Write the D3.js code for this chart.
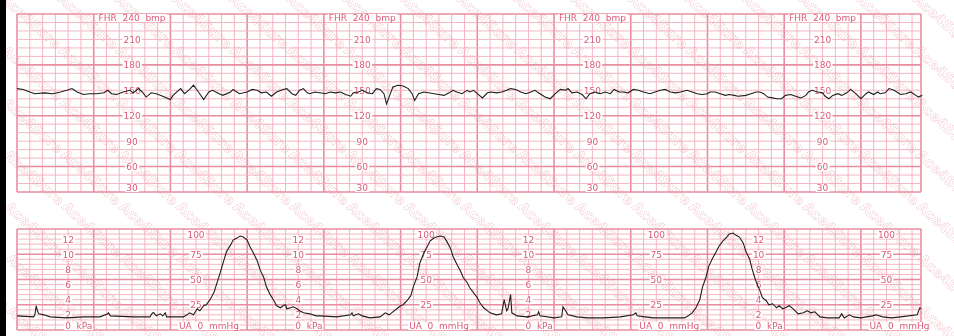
<!DOCTYPE html>
<html>
<head>
<meta charset="utf-8">
<script src="https://cdn.jsdelivr.net/npm/d3@7"></script>
<style>
  body { margin: 0; background: #fff; }
  svg { display: block; }
  .lbl { font-family: "DejaVu Sans", Verdana, sans-serif; font-size: 9px; fill: #dc5a78; white-space: pre; }
  .wm { font-family: "DejaVu Sans", Verdana, sans-serif; font-size: 14px; font-weight: bold; fill: none; stroke: #e9a3b1; stroke-width: 0.8px; stroke-dasharray: 1.2 1; }
</style>
</head>
<body>
<script>
// strip length in seconds (10 s per small square, 60 s per big one)
var stripSeconds = 707;

// fetal heart rate trace: [seconds, bpm]
var fhrTrace = [
  [0,152],[5,151],[10,148],[14,146],[21,147],[28,146],[34,148],[39,150],[43,152],[47,148],
  [52,145],[57,146],[62,146],[68,147],[71,150],[74,146],[78,145],[83,148],[88,150],[91,147],
  [95,152],[98,148],[101,142],[105,147],[109,146],[114,143],[120,139],[122,144],[128,152],[131,146],
  [135,151],[138,156],[141,150],[146,139],[150,148],[153,150],[158,146],[161,144],[167,148],[169,151],
  [174,146],[180,148],[184,151],[188,150],[191,147],[195,148],[199,143],[203,148],[208,151],[211,152],
  [215,146],[218,144],[221,150],[224,152],[227,147],[229,146],[233,148],[237,147],[241,146],[245,148],
  [249,147],[253,148],[257,145],[261,143],[263,147],[267,148],[270,150],[274,147],[278,146],[281,152],
  [284,151],[287,146],[289,134],[292,146],[294,154],[298,156],[302,155],[306,152],[309,146],[311,138],
  [314,146],[318,148],[322,147],[326,146],[330,145],[334,144],[338,147],[341,150],[344,148],[348,146],
  [352,150],[354,148],[357,150],[360,146],[364,141],[368,147],[371,148],[375,147],[379,148],[383,150],
  [386,152],[390,151],[394,148],[398,146],[402,148],[405,150],[409,146],[413,142],[417,140],[421,146],
  [425,151],[429,150],[431,152],[434,147],[438,148],[442,145],[445,140],[448,146],[452,148],[456,146],
  [460,148],[464,146],[467,151],[471,148],[474,148],[478,147],[482,151],[486,150],[490,148],[495,146],
  [499,148],[503,150],[507,151],[511,148],[515,147],[519,148],[524,150],[528,148],[532,146],[536,145],
  [540,146],[542,148],[546,148],[550,146],[554,144],[557,145],[561,144],[564,143],[570,144],[574,146],
  [578,148],[581,148],[584,146],[587,142],[591,141],[594,140],[598,140],[601,144],[605,145],[609,143],
  [613,141],[617,144],[619,148],[622,150],[626,148],[630,147],[632,143],[635,140],[638,144],[642,146],
  [645,144],[649,147],[652,151],[656,146],[660,140],[664,146],[666,148],[670,145],[673,148],[675,146],
  [679,147],[682,152],[686,150],[691,145],[695,146],[699,148],[703,144],[705,142],[708,144]
];

// uterine activity trace: [seconds, mmHg]
var uaTrace = [
  [0,14],[13,13],[14,15],[15,24],[16,19],[17,16],[21,15],[26,13],[39,12],[52,13],
  [65,13],[71,16],[71.5,17],[73,14],[91,13],[104,13],[106,17],[107,17],[109,14],[112,16],
  [114,14],[116,17],[117,13],[130,13],[133,15],[135,17],[138,15],[141,21],[143,19],[146,24],
  [148,25],[151,30],[154,37],[156,45],[159,57],[162,70],[164,78],[167,84],[169,89],[172,91],
  [174.5,93],[177,92],[180,89],[182,83],[185,76],[188,68],[190,60],[193,52],[195,43],[198,35],
  [201,29],[203,24],[206,22],[208,24],[210,25],[211,21],[214,22],[216,23],[219,21],[221,19],
  [224,17],[229,16],[234,14],[237,14],[250,13],[261,15],[262,17],[263,14],[267,16],[270,14],
  [276,12],[284,13],[288,17],[291,15],[293,17],[297,21],[300,24],[302,25],[305,29],[308,34],
  [310,43],[313,53],[315,66],[318,76],[321,83],[323,88],[326,91],[328,92],[331,93],[334,92],
  [336,88],[339,81],[341,73],[344,65],[347,58],[349,52],[352,47],[354,42],[357,37],[360,32],
  [362,27],[365,22],[368,19],[370,17],[375,15],[379,16],[381,30],[383,19],[384,21],[386,35],
  [387,17],[391,14],[399,13],[407,15],[408,18],[409,14],[420,12],[426,13],[427,23],[429,19],
  [431,15],[438,13],[446,12],[459,12],[472,13],[482,15],[484,17],[485,14],[491,13],[498,12],
  [522,12],[525,14],[528,17],[531,22],[534,30],[536,42],[539,53],[541,63],[544,71],[547,78],
  [549,83],[552,88],[555,92],[557,95],[560,96],[562,94],[565,92],[568,86],[570,78],[573,70],
  [575,60],[578,48],[581,39],[583,32],[586,29],[588,25],[591,26],[594,22],[596,24],[599,21],
  [601,22],[604,24],[607,21],[611,16],[615,17],[618,19],[621,17],[624,18],[628,13],[634,12],
  [643,12],[645,16],[647,12],[651,15],[654,13],[660,12],[669,14],[672,15],[677,13],[684,12],
  [691,13],[704,15],[706,22],[707,21]
];

// scale labels
var fhrTicks = [210, 180, 150, 120, 90, 60];
var mmHgTicks = [75, 50, 25];
var kpaTicks = [12, 10, 8, 6, 4, 2];
// label columns, in seconds from the strip start
var fhrLabelAt = [90, 270, 450, 630];
var kpaLabelAt = [40, 220, 400, 580];
var mmHgLabelAt = [140, 320, 500, 680];

var W = 954, H = 336;
var minor = "#f3aebb", major = "#e98c9f";

var svg = d3.select("body").append("svg").attr("width", W).attr("height", H);
svg.append("rect").attr("width", W).attr("height", H).attr("fill", "#fff");

var x = d3.scaleLinear().domain([0, stripSeconds]).range([17, 921]);
var yF = d3.scaleLinear().domain([30, 240]).range([192, 14]);
var yU = d3.scaleLinear().domain([0, 100]).range([330, 229]);
var kpa = (k) => yU(k * 7.5);

// grid for one panel
const drawGrid = (g, yScale, lo, hi, step, bigStep) => {
  var secs = d3.range(0, stripSeconds, 10).concat([stripSeconds]);
  g.selectAll("line.v")
    .data(secs)
    .enter()
    .append("line")
    .attr("x1", (d) => x(d)).attr("x2", (d) => x(d))
    .attr("y1", yScale(hi)).attr("y2", yScale(lo))
    .attr("stroke", (d) => (d % 60 === 0 || d === stripSeconds ? major : minor))
    .attr("stroke-width", (d) => (d % 60 === 0 || d === stripSeconds ? 1.6 : 0.9));

  g.selectAll("line.h")
    .data(d3.range(lo, hi + 1, step))
    .enter()
    .append("line")
    .attr("x1", x(0)).attr("x2", x(stripSeconds))
    .attr("y1", (d) => yScale(d)).attr("y2", (d) => yScale(d))
    .attr("stroke", (d) => (d % bigStep === 0 || d === lo || d === hi ? major : minor))
    .attr("stroke-width", (d) => (d % bigStep === 0 || d === lo || d === hi ? 1.6 : 0.9));
};

var fhrG = svg.append("g");
drawGrid(fhrG, yF, 30, 240, 10, 60);
var uaG = svg.append("g");
drawGrid(uaG, yU, 0, 100, 5, 25);

// diagonal watermark stripes over the whole sheet
var wm = svg.append("g").attr("opacity", 0.65);
d3.range(-1, 7).forEach((r) => {
  d3.range(-2, 18).forEach((c) => {
    var px = c * 57 + r * 1, py = r * 52;
    // skip copies that would fall wholly off the sheet
    if (px + 58 < 0 || py + 52 < 0 || px > W - 4 || py > H - 4) return;
    wm.append("text").attr("class", "wm")
      .attr("transform", `translate(${px},${py}) rotate(42)`)
      .text("Ace4Sure");
  });
});

// labels sit on a small white patch so the grid stops at them
var labels = svg.append("g");
const addLabel = (px, py, txt, anchor) => {
  var g = labels.append("g");
  var t = g.append("text").attr("class", "lbl")
    .attr("x", px).attr("y", py)
    .attr("text-anchor", anchor || "middle")
    .text(txt);
  var b = t.node().getBBox();
  g.insert("rect", "text")
    .attr("x", b.x - 1).attr("y", b.y + 1)
    .attr("width", b.width + 2).attr("height", b.height - 2)
    .attr("fill", "#fff");
};

fhrLabelAt.forEach((s) => {
  addLabel(x(s), 21, "FHR  240  bmp");
  fhrTicks.forEach((v) => addLabel(x(s), yF(v) + 3.5, v));
  addLabel(x(s), 191, 30);
});
kpaLabelAt.forEach((s) => {
  kpaTicks.forEach((k) => addLabel(x(s), kpa(k) + 3.5, k));
  addLabel(x(s) - 3, 329, "0  kPa", "start");
});
mmHgLabelAt.forEach((s) => {
  addLabel(x(s), 237.5, 100);
  mmHgTicks.forEach((v) => addLabel(x(s), yU(v) + 3.5, v));
  addLabel(x(s) - 17, 329, "UA  0  mmHg", "start");
});

// traces
svg.append("path")
  .datum(fhrTrace)
  .attr("fill", "none")
  .attr("stroke", "#1e1e1e")
  .attr("stroke-width", 1.1)
  .attr("d", d3.line().x((d) => x(d[0])).y((d) => yF(d[1])));

svg.append("path")
  .datum(uaTrace)
  .attr("fill", "none")
  .attr("stroke", "#1e1e1e")
  .attr("stroke-width", 1.1)
  .attr("d", d3.line().x((d) => x(d[0])).y((d) => yU(d[1])));

// dark strip on the left edge
svg.append("rect").attr("x", 0).attr("y", 0).attr("width", 6).attr("height", H).attr("fill", "#000");
</script>
</body>
</html>
